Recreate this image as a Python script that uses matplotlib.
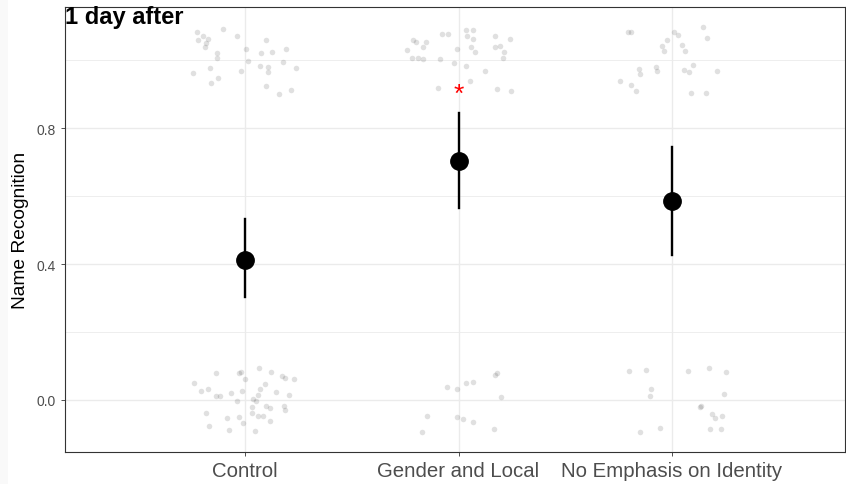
import numpy as np
import matplotlib
matplotlib.use("Agg")
import matplotlib.pyplot as plt
from matplotlib.patches import Rectangle

plt.rcParams['font.family'] = ['Liberation Sans', 'DejaVu Sans']

# 组别与均值/置信区间
groups = ["Control", "Gender and Local", "No Emphasis on Identity"]
means = [0.413, 0.703, 0.585]
ci_low = [0.303, 0.565, 0.426]
ci_high = [0.532, 0.844, 0.744]

# 抖动后的原始数据点（x 为相对组中心的偏移，y 为抖动后的 0/1）
ctrl_dx = [-0.223, -0.195, -0.172, -0.219, -0.184, -0.187, -0.104, -0.036, 0.003, -0.130,
           -0.131, 0.013, 0.097, 0.075, 0.125, 0.191, 0.179, 0.070, 0.106, 0.109,
           0.239, -0.019, -0.165, -0.244, -0.126, -0.158, 0.100, 0.159, 0.217,
           -0.239, -0.206, -0.172, -0.134, -0.137, -0.117, -0.064, -0.028, -0.019, 0.000,
           -0.014, -0.036, 0.067, 0.120, 0.092, 0.070, 0.062, 0.039, 0.053, 0.175,
           0.186, 0.230, 0.147, 0.205, -0.184, -0.167, -0.086, -0.074, -0.028, -0.011,
           0.034, 0.034, 0.048, 0.062, 0.086, 0.100, 0.117, 0.119, 0.184, 0.186]
ctrl_y = [1.081, 1.070, 1.062, 1.059, 1.049, 1.038, 1.091, 1.070, 1.032, 1.021,
          1.007, 0.998, 1.058, 1.020, 1.023, 1.033, 0.993, 0.981, 0.980, 0.965,
          0.977, 0.969, 0.976, 0.961, 0.948, 0.931, 0.923, 0.901, 0.911,
          0.050, 0.026, 0.032, 0.079, 0.011, 0.011, 0.021, 0.079, 0.083, 0.062,
          0.027, -0.002, 0.095, 0.081, 0.046, 0.032, 0.015, 0.002, -0.002, 0.070,
          0.065, 0.062, 0.024, 0.014, -0.039, -0.076, -0.053, -0.088, -0.049, -0.067,
          -0.021, -0.039, -0.091, -0.048, -0.048, -0.018, -0.024, -0.062, -0.019, -0.029]

gend_dx = [-0.240, -0.214, -0.200, -0.167, -0.150, -0.220, -0.189, -0.165, -0.089, -0.076,
           -0.048, -0.005, -0.022, 0.034, 0.066, 0.041, 0.067, 0.058, 0.076, 0.036,
           0.123, 0.055, -0.094, 0.173, 0.242, 0.170, 0.192, 0.211, 0.207, 0.179, 0.247,
           0.179, 0.172, 0.037, 0.070, -0.053, -0.006, 0.200, -0.147, -0.169, -0.009,
           0.020, 0.070, 0.164]
gend_y = [1.030, 1.059, 1.052, 1.038, 1.052, 1.006, 1.007, 1.003, 1.002, 1.076,
          1.077, 1.033, 0.990, 1.087, 1.087, 1.070, 1.063, 1.038, 1.024, 0.981,
          0.969, 0.938, 0.918, 1.071, 1.061, 1.039, 1.042, 1.023, 1.005, 0.915, 0.908,
          0.079, 0.073, 0.051, 0.052, 0.037, 0.031, 0.010, -0.047, -0.093, -0.049,
          -0.055, -0.065, -0.085]

noem_dx = [-0.205, -0.193, 0.008, 0.030, 0.145, 0.163, -0.023, -0.045, -0.037, 0.047,
           0.061, -0.076, -0.072, -0.153, -0.148, -0.244, -0.193, -0.167, 0.056, 0.081,
           0.098, 0.212, 0.088, 0.161,
           -0.203, -0.120, 0.075, 0.175, 0.253, -0.100, -0.103, 0.242, 0.136, 0.131,
           0.189, 0.203, 0.234, 0.179, 0.231, -0.056, -0.150]
noem_y = [1.081, 1.081, 1.081, 1.073, 1.096, 1.066, 1.059, 1.040, 1.026, 1.044,
          1.026, 0.979, 0.967, 0.973, 0.959, 0.937, 0.927, 0.909, 0.971, 0.964,
          0.985, 0.967, 0.904, 0.902,
          0.084, 0.088, 0.084, 0.094, 0.081, 0.031, 0.011, 0.017, -0.018, -0.020,
          -0.041, -0.052, -0.048, -0.085, -0.085, -0.082, -0.095]

sig_marks = {1: 0.90}  # 显著性星号

fig = plt.figure(figsize=(8.46, 4.85), dpi=100)
# 左侧浅灰细条
fig.patches.append(Rectangle((0, 0), 8 / 846, 1, transform=fig.transFigure,
                             facecolor="#F9F9F9", edgecolor="none", zorder=0))
ax = fig.add_axes([65 / 846, 32 / 485, 780 / 846, 445 / 485])

# 网格
for y in [0.0, 0.4, 0.8]:
    ax.axhline(y, color="#EBEBEB", lw=1.0, zorder=0)
for y in [0.2, 0.6, 1.0]:
    ax.axhline(y, color="#EBEBEB", lw=0.6, zorder=0)
for i in range(len(groups)):
    ax.axvline(i, color="#EBEBEB", lw=1.0, zorder=0)

# 原始数据点
for i, (dx, yy) in enumerate([(ctrl_dx, ctrl_y), (gend_dx, gend_y), (noem_dx, noem_y)]):
    ax.scatter(i + np.array(dx), yy, s=16, color="black", alpha=0.12,
               linewidths=0, zorder=2)

# 均值与误差线
xs = np.arange(len(groups))
for i in xs:
    ax.plot([i, i], [ci_low[i], ci_high[i]], color="black", lw=1.7, zorder=3)
ax.plot(xs, means, "o", color="black", markersize=12.5, zorder=4)

for i, y in sig_marks.items():
    ax.text(i, y, "*", color="red", ha="center", va="center", fontsize=19, zorder=5)

ax.set_xlim(-0.843, 2.810)
ax.set_ylim(-0.153, 1.156)
ax.set_xticks(xs)
ax.set_xticklabels(groups, fontsize=14.7, color="#4D4D4D")
ax.set_yticks([0.0, 0.4, 0.8])
ax.set_yticklabels(["0.0", "0.4", "0.8"], fontsize=10, color="#4D4D4D")
ax.tick_params(axis="both", length=3, color="#333333", width=0.6)
ax.set_ylabel("Name Recognition", fontsize=13.8)
ax.yaxis.set_label_coords(-0.046, 0.5)
for sp in ax.spines.values():
    sp.set_color("#333333")
    sp.set_linewidth(0.8)

fig.text(65 / 846, 1 - 6 / 485, "1 day after", fontsize=17, fontweight="bold",
         ha="left", va="top")

fig.savefig("out.png", dpi=100)
